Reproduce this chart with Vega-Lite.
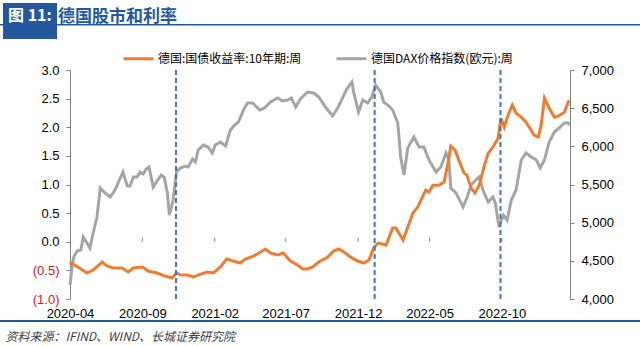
{
  "$schema": "https://vega.github.io/schema/vega-lite/v6.json",
  "width": 500,
  "height": 229,
  "autosize": {"type": "none"},
  "padding": {"left": 70, "top": 70, "right": 70, "bottom": 47},
  "background": "white",
  "config": {"view": {"stroke": null}, "font": "Liberation Sans"},
  "title": {
    "text": "德国股市和利率",
    "anchor": "start",
    "frame": "group",
    "dx": -12,
    "offset": -23,
    "fontSize": 17,
    "font": "Noto Sans CJK SC",
    "fontWeight": "bold",
    "color": "#24589E"
  },
  "datasets": {
    "yield": [
      {"date": "2020-04-03", "v": -0.354}, {"date": "2020-04-09", "v": -0.389}, {"date": "2020-04-20", "v": -0.441},
      {"date": "2020-05-09", "v": -0.546}, {"date": "2020-05-22", "v": -0.494}, {"date": "2020-06-10", "v": -0.354},
      {"date": "2020-06-20", "v": -0.424}, {"date": "2020-07-03", "v": -0.459}, {"date": "2020-07-22", "v": -0.459},
      {"date": "2020-08-04", "v": -0.529}, {"date": "2020-08-15", "v": -0.459}, {"date": "2020-09-03", "v": -0.441},
      {"date": "2020-09-15", "v": -0.511}, {"date": "2020-10-04", "v": -0.546}, {"date": "2020-10-21", "v": -0.599},
      {"date": "2020-11-05", "v": -0.633}, {"date": "2020-11-14", "v": -0.546}, {"date": "2020-11-24", "v": -0.581},
      {"date": "2020-12-07", "v": -0.581}, {"date": "2020-12-20", "v": -0.616}, {"date": "2021-01-04", "v": -0.564},
      {"date": "2021-01-18", "v": -0.529}, {"date": "2021-01-31", "v": -0.546}, {"date": "2021-02-15", "v": -0.441},
      {"date": "2021-02-28", "v": -0.302}, {"date": "2021-03-14", "v": -0.337}, {"date": "2021-03-29", "v": -0.372},
      {"date": "2021-04-09", "v": -0.302}, {"date": "2021-04-26", "v": -0.250}, {"date": "2021-05-11", "v": -0.180},
      {"date": "2021-05-21", "v": -0.127}, {"date": "2021-06-01", "v": -0.197}, {"date": "2021-06-16", "v": -0.232},
      {"date": "2021-06-28", "v": -0.197}, {"date": "2021-07-13", "v": -0.337}, {"date": "2021-07-28", "v": -0.407},
      {"date": "2021-08-08", "v": -0.476}, {"date": "2021-08-18", "v": -0.476}, {"date": "2021-08-29", "v": -0.441},
      {"date": "2021-09-11", "v": -0.354}, {"date": "2021-09-30", "v": -0.267}, {"date": "2021-10-12", "v": -0.162},
      {"date": "2021-10-23", "v": -0.127}, {"date": "2021-11-03", "v": -0.180}, {"date": "2021-11-17", "v": -0.267},
      {"date": "2021-12-02", "v": -0.337}, {"date": "2021-12-15", "v": -0.372}, {"date": "2021-12-26", "v": -0.320},
      {"date": "2022-01-05", "v": -0.110}, {"date": "2022-01-14", "v": -0.023}, {"date": "2022-01-24", "v": -0.040},
      {"date": "2022-01-31", "v": -0.058}, {"date": "2022-02-06", "v": 0.065}, {"date": "2022-02-14", "v": 0.239},
      {"date": "2022-02-21", "v": 0.239}, {"date": "2022-03-08", "v": 0.030}, {"date": "2022-03-18", "v": 0.257},
      {"date": "2022-03-29", "v": 0.501}, {"date": "2022-04-08", "v": 0.606}, {"date": "2022-04-15", "v": 0.728},
      {"date": "2022-04-25", "v": 0.902}, {"date": "2022-05-02", "v": 0.867}, {"date": "2022-05-10", "v": 0.989},
      {"date": "2022-05-23", "v": 0.989}, {"date": "2022-06-03", "v": 1.042}, {"date": "2022-06-11", "v": 1.373},
      {"date": "2022-06-17", "v": 1.670}, {"date": "2022-06-26", "v": 1.600}, {"date": "2022-07-04", "v": 1.426},
      {"date": "2022-07-15", "v": 1.199}, {"date": "2022-07-21", "v": 1.164}, {"date": "2022-07-30", "v": 0.937},
      {"date": "2022-08-07", "v": 0.850}, {"date": "2022-08-16", "v": 0.989}, {"date": "2022-08-26", "v": 1.303},
      {"date": "2022-09-04", "v": 1.548}, {"date": "2022-09-14", "v": 1.653}, {"date": "2022-09-25", "v": 1.810},
      {"date": "2022-10-01", "v": 2.159}, {"date": "2022-10-08", "v": 2.002}, {"date": "2022-10-16", "v": 2.211},
      {"date": "2022-10-25", "v": 2.385}, {"date": "2022-11-02", "v": 2.246}, {"date": "2022-11-13", "v": 2.176},
      {"date": "2022-11-23", "v": 2.089}, {"date": "2022-12-04", "v": 1.949}, {"date": "2022-12-10", "v": 1.862},
      {"date": "2022-12-19", "v": 1.827}, {"date": "2022-12-25", "v": 2.037}, {"date": "2023-01-01", "v": 2.508},
      {"date": "2023-01-11", "v": 2.333}, {"date": "2023-01-22", "v": 2.176}, {"date": "2023-01-30", "v": 2.194},
      {"date": "2023-02-12", "v": 2.263}, {"date": "2023-02-22", "v": 2.473}
    ],
    "dax": [
      {"date": "2020-04-03", "v": 4183}, {"date": "2020-04-07", "v": 4406}, {"date": "2020-04-11", "v": 4550},
      {"date": "2020-04-18", "v": 4629}, {"date": "2020-04-26", "v": 4642}, {"date": "2020-05-01", "v": 4812},
      {"date": "2020-05-09", "v": 4734}, {"date": "2020-05-15", "v": 4668}, {"date": "2020-05-22", "v": 4865},
      {"date": "2020-05-30", "v": 5074}, {"date": "2020-06-06", "v": 5454}, {"date": "2020-06-16", "v": 5389},
      {"date": "2020-06-27", "v": 5336}, {"date": "2020-07-07", "v": 5428}, {"date": "2020-07-24", "v": 5664},
      {"date": "2020-08-02", "v": 5480}, {"date": "2020-08-08", "v": 5480}, {"date": "2020-08-15", "v": 5598},
      {"date": "2020-08-23", "v": 5598}, {"date": "2020-08-29", "v": 5664}, {"date": "2020-09-05", "v": 5638},
      {"date": "2020-09-11", "v": 5703}, {"date": "2020-09-17", "v": 5729}, {"date": "2020-09-26", "v": 5467},
      {"date": "2020-10-04", "v": 5546}, {"date": "2020-10-13", "v": 5624}, {"date": "2020-10-19", "v": 5598},
      {"date": "2020-10-26", "v": 5389}, {"date": "2020-10-30", "v": 5100}, {"date": "2020-11-07", "v": 5297},
      {"date": "2020-11-14", "v": 5664}, {"date": "2020-11-22", "v": 5716}, {"date": "2020-12-03", "v": 5742},
      {"date": "2020-12-09", "v": 5729}, {"date": "2020-12-18", "v": 5834}, {"date": "2020-12-24", "v": 5795},
      {"date": "2020-12-30", "v": 5952}, {"date": "2021-01-10", "v": 6017}, {"date": "2021-01-20", "v": 5991},
      {"date": "2021-01-29", "v": 5913}, {"date": "2021-02-04", "v": 6017}, {"date": "2021-02-15", "v": 6057},
      {"date": "2021-02-26", "v": 6004}, {"date": "2021-03-08", "v": 6214}, {"date": "2021-03-17", "v": 6279},
      {"date": "2021-03-25", "v": 6319}, {"date": "2021-04-05", "v": 6476}, {"date": "2021-04-13", "v": 6568},
      {"date": "2021-04-24", "v": 6568}, {"date": "2021-05-09", "v": 6476}, {"date": "2021-05-19", "v": 6502},
      {"date": "2021-06-01", "v": 6581}, {"date": "2021-06-16", "v": 6633}, {"date": "2021-06-26", "v": 6594},
      {"date": "2021-07-07", "v": 6607}, {"date": "2021-07-15", "v": 6633}, {"date": "2021-07-24", "v": 6515},
      {"date": "2021-08-03", "v": 6620}, {"date": "2021-08-18", "v": 6712}, {"date": "2021-08-31", "v": 6699},
      {"date": "2021-09-11", "v": 6646}, {"date": "2021-09-25", "v": 6515}, {"date": "2021-10-10", "v": 6397},
      {"date": "2021-10-21", "v": 6502}, {"date": "2021-11-01", "v": 6646}, {"date": "2021-11-09", "v": 6751},
      {"date": "2021-11-20", "v": 6843}, {"date": "2021-11-24", "v": 6699}, {"date": "2021-12-04", "v": 6450},
      {"date": "2021-12-13", "v": 6607}, {"date": "2021-12-23", "v": 6568}, {"date": "2022-01-01", "v": 6646},
      {"date": "2022-01-09", "v": 6803}, {"date": "2022-01-20", "v": 6712}, {"date": "2022-01-26", "v": 6581},
      {"date": "2022-02-04", "v": 6541}, {"date": "2022-02-14", "v": 6476}, {"date": "2022-02-25", "v": 6306},
      {"date": "2022-03-03", "v": 5860}, {"date": "2022-03-10", "v": 5624}, {"date": "2022-03-18", "v": 5978},
      {"date": "2022-03-31", "v": 6122}, {"date": "2022-04-11", "v": 5991}, {"date": "2022-04-21", "v": 5991},
      {"date": "2022-05-02", "v": 5821}, {"date": "2022-05-17", "v": 5664}, {"date": "2022-05-27", "v": 5729},
      {"date": "2022-06-07", "v": 5913}, {"date": "2022-06-13", "v": 5821}, {"date": "2022-06-17", "v": 5454},
      {"date": "2022-06-28", "v": 5389}, {"date": "2022-07-13", "v": 5205}, {"date": "2022-07-21", "v": 5323},
      {"date": "2022-07-30", "v": 5493}, {"date": "2022-08-09", "v": 5559}, {"date": "2022-08-16", "v": 5598},
      {"date": "2022-08-24", "v": 5428}, {"date": "2022-09-04", "v": 5271}, {"date": "2022-09-14", "v": 5336},
      {"date": "2022-09-19", "v": 5258}, {"date": "2022-09-27", "v": 4943}, {"date": "2022-10-06", "v": 5100},
      {"date": "2022-10-14", "v": 5035}, {"date": "2022-10-23", "v": 5297}, {"date": "2022-11-02", "v": 5428},
      {"date": "2022-11-13", "v": 5821}, {"date": "2022-11-23", "v": 5913}, {"date": "2022-12-04", "v": 5860},
      {"date": "2022-12-15", "v": 5821}, {"date": "2022-12-23", "v": 5716}, {"date": "2023-01-01", "v": 5821},
      {"date": "2023-01-11", "v": 6057}, {"date": "2023-01-22", "v": 6188}, {"date": "2023-02-01", "v": 6240},
      {"date": "2023-02-12", "v": 6306}, {"date": "2023-02-20", "v": 6306}, {"date": "2023-02-24", "v": 6279}
    ],
    "events": [{"date": "2020-11-13"}, {"date": "2022-01-07"}, {"date": "2022-09-30"}],
    "ticks": [{"date": "2020-09-03"}, {"date": "2021-02-03"}, {"date": "2021-07-03"}, {"date": "2021-12-03"}, {"date": "2022-05-03"}, {"date": "2022-10-03"}]
  },
  "encoding": {
    "x": {
      "field": "date",
      "type": "temporal",
      "scale": {"type": "utc", "domain": [{"year": 2020, "month": 4, "date": 3, "utc": true}, {"year": 2023, "month": 2, "date": 24, "utc": true}]},
      "axis": {
        "values": [
          {"year": 2020, "month": 4, "date": 3, "utc": true},
          {"year": 2020, "month": 9, "date": 3, "utc": true},
          {"year": 2021, "month": 2, "date": 3, "utc": true},
          {"year": 2021, "month": 7, "date": 3, "utc": true},
          {"year": 2021, "month": 12, "date": 3, "utc": true},
          {"year": 2022, "month": 5, "date": 3, "utc": true},
          {"year": 2022, "month": 10, "date": 3, "utc": true}
        ],
        "format": "%Y-%m",
        "labelFlush": false,
        "labelOverlap": false,
        "domain": false,
        "ticks": false,
        "grid": false,
        "labelPadding": 8,
        "labelFontSize": 13,
        "labelColor": "#000000",
        "title": "资料来源：IFIND、WIND、长城证券研究院",
        "titleFont": "Noto Sans CJK SC",
        "titleFontStyle": "italic",
        "titleFontWeight": "normal",
        "titleFontSize": 12,
        "titleColor": "#404040",
        "titleAnchor": "start",
        "titleAlign": "left",
        "titleBaseline": "middle",
        "titleX": -65,
        "titleY": 37
      }
    }
  },
  "layer": [
    {
      "data": {"name": "dax"},
      "mark": {"type": "line", "strokeWidth": 3, "interpolate": "linear"},
      "encoding": {
        "y": {
          "field": "v",
          "type": "quantitative",
          "scale": {"domain": [4000, 7000], "nice": false, "zero": false},
          "axis": {
            "orient": "right",
            "values": [4000, 4500, 5000, 5500, 6000, 6500, 7000],
            "labelExpr": "format(datum.value, ',')",
            "labelOverlap": false,
            "title": null,
            "grid": false,
            "domainColor": "#808080",
            "tickColor": "#808080",
            "tickSize": 4,
            "labelPadding": 7,
            "labelFontSize": 13,
            "labelColor": "#000000"
          }
        },
        "color": {
          "datum": "德国DAX价格指数(欧元):周",
          "scale": {"domain": ["德国:国债收益率:10年期:周", "德国DAX价格指数(欧元):周"], "range": ["#ED7D31", "#A5A5A5"]},
          "legend": {
            "orient": "none",
            "legendX": 52,
            "legendY": -28,
            "direction": "horizontal",
            "title": null,
            "symbolType": "stroke",
            "symbolStrokeWidth": 3,
            "symbolSize": 900,
            "labelFontSize": 12,
            "labelFont": "Noto Sans CJK SC",
            "labelColor": "#000000",
            "labelOffset": 3,
            "columnPadding": 28
          }
        }
      }
    },
    {
      "encoding": {
        "y": {
          "field": "v",
          "type": "quantitative",
          "scale": {"domain": [-1, 3], "nice": false},
          "axis": {
            "orient": "left",
            "values": [-1, -0.5, 0, 0.5, 1, 1.5, 2, 2.5, 3],
            "labelExpr": "datum.value < 0 ? '(' + format(-datum.value, '.1f') + ')' : format(datum.value, '.1f') + '\u2008'",
            "labelColor": {"condition": {"test": "datum.value < 0", "value": "#D02020"}, "value": "#000000"},
            "labelOverlap": false,
            "title": null,
            "grid": false,
            "domainColor": "#808080",
            "tickColor": "#808080",
            "tickSize": 4,
            "labelPadding": 7,
            "labelFontSize": 13
          }
        }
      },
      "layer": [
        {
          "data": {"values": [{"v": 0}]},
          "mark": {"type": "rule", "color": "#808080", "strokeWidth": 1}
        },
        {
          "data": {"name": "yield"},
          "mark": {"type": "line", "strokeWidth": 3, "interpolate": "linear"},
          "encoding": {
            "color": {"datum": "德国:国债收益率:10年期:周"}
          }
        }
      ]
    },
    {
      "layer": [
        {
          "data": {"name": "ticks"},
          "mark": {"type": "rule", "color": "#808080", "strokeWidth": 1},
          "encoding": {
            "y": {"datum": 0, "type": "quantitative", "scale": {"domain": [-1, 3], "nice": false}, "axis": null},
            "y2": {"datum": 0.07}
          }
        },
        {
          "data": {"name": "events"},
          "mark": {"type": "rule", "color": "#4472C4", "strokeWidth": 2},
          "encoding": {
            "strokeDash": {
              "datum": "事件",
              "scale": {"range": [[5, 3]]},
              "legend": {
                "orient": "none",
                "legendX": -67,
                "legendY": -67,
                "title": "图 11:",
                "titleColor": "#FFFFFF",
                "titleFont": "Noto Sans CJK SC",
                "titleFontSize": 16,
                "titleFontWeight": "bold",
                "titlePadding": 3,
                "fillColor": "#24589E",
                "padding": 5,
                "symbolOpacity": 0,
                "symbolSize": 0,
                "labelOpacity": 0,
                "labelFontSize": 7
              }
            }
          }
        },
        {
          "data": {"name": "events"},
          "mark": {"type": "point", "opacity": 0},
          "encoding": {
            "fill": {
              "datum": 0,
              "type": "quantitative",
              "scale": {"domain": [0, 1], "range": ["#24589E", "#24589E"]},
              "legend": {
                "type": "gradient",
                "orient": "none",
                "direction": "horizontal",
                "legendX": -70,
                "legendY": -46,
                "gradientLength": 640,
                "gradientThickness": 1.5,
                "gradientStrokeWidth": 0,
                "padding": 0,
                "title": null,
                "labelOpacity": 0,
                "labelFontSize": 1
              }
            }
          }
        },
        {
          "data": {"name": "events"},
          "mark": {"type": "point", "opacity": 0, "filled": false},
          "encoding": {
            "stroke": {
              "datum": 5,
              "type": "quantitative",
              "scale": {"domain": [0, 10], "range": ["#24589E", "#24589E"]},
              "legend": {
                "type": "gradient",
                "orient": "none",
                "direction": "horizontal",
                "legendX": -70,
                "legendY": 250,
                "gradientLength": 640,
                "gradientThickness": 2,
                "gradientStrokeWidth": 0,
                "padding": 0,
                "title": null,
                "labelOpacity": 0,
                "labelFontSize": 1
              }
            }
          }
        }
      ]
    }
  ],
  "resolve": {"scale": {"y": "independent"}}
}
